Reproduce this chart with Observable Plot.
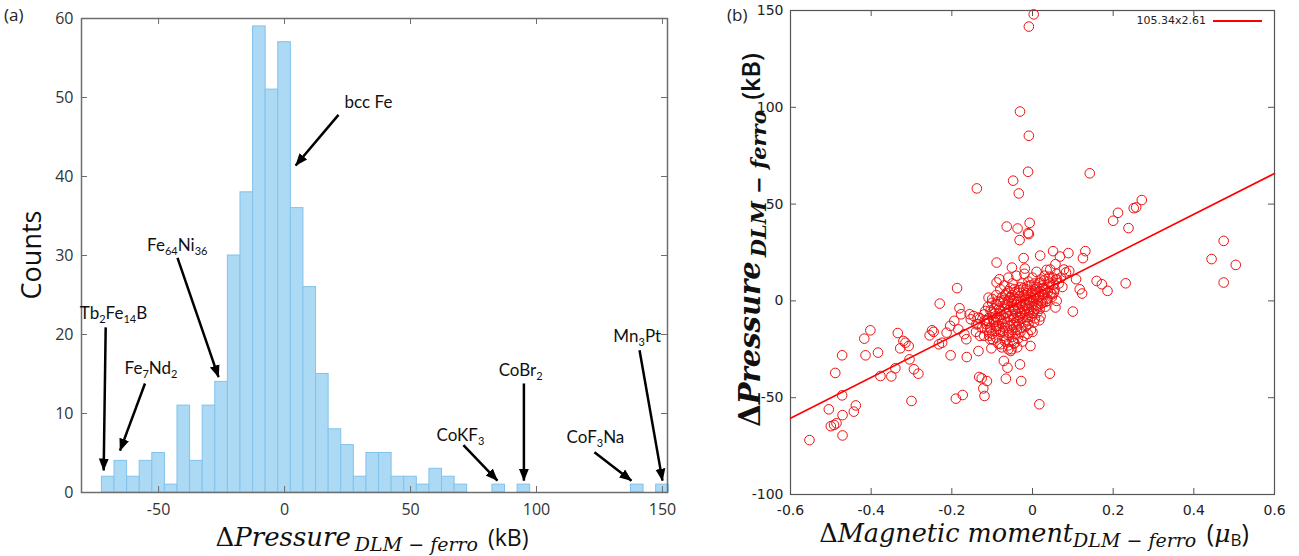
<!DOCTYPE html>
<html><head><meta charset="utf-8">
<script src="https://cdn.jsdelivr.net/npm/d3@7"></script>
<script src="https://cdn.jsdelivr.net/npm/@observablehq/plot@0.6"></script>
<style>
body{margin:0;background:#fff;}
#wrap{position:relative;width:1299px;height:556px;overflow:hidden;background:#fff;}
.abs{position:absolute;white-space:nowrap;line-height:1;}
.panel{font-family:'Open Sans',sans-serif;font-size:17px;color:#222;}
.mi{font-family:'DejaVu Serif',serif;font-style:italic;color:#111;}
.up{font-style:normal;}
.sb{font-family:'DejaVu Serif',serif;font-style:italic;position:relative;color:#111;}
.sans{font-family:'Open Sans',sans-serif;color:#111;}
</style></head><body><div id="wrap">
<div id="a" class="abs" style="left:0;top:0"></div>
<div id="b" class="abs" style="left:700px;top:0"></div>
<div class="abs panel" style="left:4px;top:6px">(a)</div>
<div class="abs panel" style="left:727px;top:6px">(b)</div>
<div class="abs sans" style="left:30px;top:255px;transform:translate(-50%,-50%) rotate(-90deg);font-size:27px;">Counts</div>
<div class="abs" style="left:372px;top:537px;transform:translate(-50%,-50%);">
  <span class="mi" style="font-size:26px"><span class="up">Δ</span>Pressure</span>
  <span class="sb" style="font-size:19px;top:5px">DLM − ferro</span>
  <span class="sans" style="font-size:23px">&nbsp;(kB)</span>
</div>
<div class="abs" style="left:1034px;top:533px;transform:translate(-50%,-50%);">
  <span class="mi" style="font-size:25.5px"><span class="up">Δ</span>Magnetic moment</span><span class="sb" style="font-size:19px;top:5px">DLM − ferro</span>
  <span class="sans" style="font-size:25px">&nbsp;(<span class="mi">μ</span><span style="font-size:17px;position:relative;top:4px">B</span>)</span>
</div>
<div class="abs" style="left:750px;top:240px;transform:translate(-50%,-50%) rotate(-90deg);">
  <span class="mi" style="font-size:29px;font-weight:bold"><span class="up">Δ</span>Pressure</span>
  <span class="sb" style="font-size:21px;top:6px;font-weight:bold">DLM − ferro</span>
  <span class="sans" style="font-size:25px;font-weight:600">&nbsp;(kB)</span>
</div>
<div class="abs" style="right:93px;top:15px;font-family:'DejaVu Sans',sans-serif;font-size:11px;color:#222;">105.34x2.61</div>
<div class="abs" style="left:1213px;top:20px;width:49px;height:2px;background:#f00;"></div>
</div>
<script>
// ---------- Panel (a) data: histogram ----------
const binCenters = [-70,-65,-60,-55,-50,-45,-40,-35,-30,-25,-20,-15,-10,-5,0,5,10,15,20,25,30,35,40,45,50,55,60,65,70,85,95,140,150];
const binCounts  = [2,4,2,4,5,1,11,4,11,14,30,38,59,51,57,36,26,15,8,6,2,5,5,2,2,1,3,2,1,1,1,1,1];
const binWidth = 5;
const xTicksA = [-50,0,50,100,150];
const yTicksA = [0,10,20,30,40,50,60];

// annotations (data coordinates)
const annotLabels = ["bcc Fe","Fe₆₄Ni₃₆","Tb₂Fe₁₄B","Fe₇Nd₂","CoKF₃","CoBr₂","CoF₃Na","Mn₃Pt"];
const annotTextX  = [33.3,-42.6,-67.9,-53.0,69.8,93.7,123.4,140];
const annotTextY  = [49.3,31.3,22.7,15.7,7.2,15.5,7.0,19.8];
const arrowX1 = [21.4,-42.5,-71.0,-55.4,71.0,95.0,123.0,140.9];
const arrowY1 = [47.8,29.7,20.9,13.8,6.0,13.8,5.1,18.0];
const arrowX2 = [4.4,-26.2,-71.8,-65.3,84.5,95.0,137.7,150.0];
const arrowY2 = [41.4,14.6,2.8,5.3,1.5,1.5,1.5,1.5];

// ---------- Panel (b) data: scatter ----------
const xTicksB = [-0.6,-0.4,-0.2,0,0.2,0.4,0.6];
const yTicksB = [-100,-50,0,50,100,150];
const fitSlope = 105.34, fitIntercept = 2.61;
const fitRange = [-0.6, 0.6];

const upperPoints = [
[0.003,148],[-0.009,141.7],[-0.031,97.8],[-0.009,85.3],[-0.011,66.7],[0.142,65.9],[-0.048,62.1],[-0.034,55.5],[-0.138,58.1],
[0.271,52.1],[0.257,48.3],[0.251,47.9],[0.212,45.5],[0.2,41.4],[0.238,37.6],[-0.007,40.3],[-0.011,35],[-0.009,34.5],
[-0.064,38.4],[-0.037,37.4],[-0.032,31.4],[0.474,31],[0.444,21.6],[0.504,18.6],[0.474,9.5],[-0.089,19.8],[-0.051,17.2],
[-0.022,22.1],[0.019,23.4],[0.051,25.7],[0.068,22.9],[0.089,24.7],[0.131,25.7],[0.125,22.1],[-0.019,16.7],[0.057,19],
[0.078,16.2],[0.091,15.5],[0.044,16.2]];
const lowerPoints = [
[-0.553,-71.9],[-0.505,-56],[-0.5,-64.7],[-0.492,-64.1],[-0.486,-63.2],[-0.471,-69.5],[-0.471,-59],[-0.472,-48.8],
[-0.443,-57.2],[-0.438,-54],[-0.489,-37.2],[-0.472,-28.1],[-0.417,-19.5],[-0.402,-15.2],[-0.414,-28.1],[-0.383,-26.7],
[-0.377,-38.8],[-0.35,-39],[-0.34,-34.8],[-0.334,-16.6],[-0.328,-24.5],[-0.32,-20.7],[-0.315,-21.6],[-0.307,-23.3],
[-0.305,-30.2],[-0.294,-35.3],[-0.283,-37.6],[-0.3,-51.7],[-0.255,-17.8],[-0.249,-15.2],[-0.245,-16],[-0.232,-22.4],
[-0.224,-21.6],[-0.23,-1.4],[-0.213,-16.4],[-0.204,-12.9],[-0.194,-10.3],[-0.203,-28.1],[-0.19,-50.5],[-0.173,-48.6],
[-0.187,6.6],[-0.181,-3.8],[-0.177,-6.9],[-0.184,-14.7],[-0.169,-17.2],[-0.164,-19.8],[-0.163,-29],[-0.156,-6.9],
[-0.153,-9.5],[-0.146,-7.8],[-0.139,-12.1],[-0.136,-8.6],[-0.134,-25.9],[-0.13,-18.1],[-0.132,-39.3],[-0.126,-40],
[-0.122,-45.2],[-0.119,-49.1],[-0.113,-41.4],[-0.117,-5.2],[-0.113,-10.3],[-0.107,-16.4],[-0.105,-19.8],[-0.102,-24.5],
[-0.109,1.7],[-0.089,9.5],[-0.082,11.2],[-0.09,-1.7],[-0.088,-8.6],[-0.083,-12.9],[-0.079,-22.4],[-0.071,-31],
[-0.066,-40.2],[-0.062,-34.5],[-0.06,-25],[-0.054,-25.9],[-0.049,-20.7],[-0.045,-21.6],[-0.031,-32.8],[-0.028,-41.4],
[-0.005,-23.3],[0,-16],[0.017,-10],[0.017,-53.4],[0.043,-37.6],[0.057,-3.4],[0.1,-5.5],[0.108,11.2],[0.117,6],
[0.123,3.8],[0.159,10.3],[0.172,8.6],[0.186,5.2],[0.231,9.1],[0.074,7.2],[0.053,4.3],[0.049,3.4],[0.036,0],
[0.083,14.7],[0.061,11.2]];
const clusterPoints = [
[-0.06,12],[-0.04,13],[-0.02,14],[0.0,12],[0.01,15],[0.02,11],[0.03,13],[0.04,10],[0.035,16],[0.05,12],[0.06,14],[-0.01,10],[0.015,9],[0.065,9],[0.07,12],
[-0.08,6],[-0.07,8],[-0.06,5],[-0.05,9],[-0.045,6],[-0.03,7],[-0.025,9],[-0.015,6],[-0.005,8],[0.0,5],[0.005,9],[0.012,7],[0.02,5],[0.025,8],[0.03,6],[0.04,7],[0.045,4],[0.055,6],[0.008,3.5],[-0.035,4],
[-0.1,1],[-0.09,3],[-0.085,0],[-0.075,2],[-0.065,4],[-0.06,0],[-0.055,2],[-0.05,3],[-0.042,1],[-0.038,-0.5],[-0.032,2.5],[-0.028,0],[-0.022,3],[-0.018,1],[-0.012,4],[-0.008,0.5],[-0.004,2],[0.002,0],[0.006,3],[0.01,1],[0.016,2],[0.022,0],[0.028,3],[0.035,1],[0.048,2],[0.06,0],
[-0.11,-3],[-0.1,-1],[-0.095,-4],[-0.088,-2],[-0.08,-5],[-0.072,-1],[-0.068,-3.5],[-0.062,-2],[-0.058,-4.5],[-0.052,-1],[-0.048,-3],[-0.044,-5],[-0.04,-2],[-0.035,-4],[-0.03,-1.5],[-0.026,-3],[-0.02,-4.5],[-0.016,-2],[-0.01,-3.5],[-0.006,-1],[0.0,-3],[0.004,-5],[0.01,-2],[0.018,-4],[0.025,-1],[0.032,-3],
[-0.12,-7],[-0.11,-9],[-0.1,-6],[-0.092,-8],[-0.085,-10],[-0.078,-7],[-0.07,-9],[-0.066,-6],[-0.06,-8],[-0.054,-10],[-0.05,-7],[-0.046,-9],[-0.04,-6],[-0.036,-8.5],[-0.03,-6.5],[-0.024,-9],[-0.018,-7],[-0.012,-10],[-0.008,-6],[-0.002,-8],[0.006,-9],[0.012,-6],[0.02,-8],
[-0.115,-12],[-0.105,-14],[-0.095,-11],[-0.09,-13],[-0.082,-15],[-0.075,-12],[-0.068,-14],[-0.062,-11],[-0.056,-13],[-0.05,-15],[-0.045,-11.5],[-0.04,-13.5],[-0.034,-12],[-0.028,-14],[-0.022,-11],[-0.016,-13],[-0.01,-12],[-0.004,-15],[0.004,-11],
[-0.1,-17],[-0.09,-19],[-0.08,-16],[-0.072,-18],[-0.065,-20],[-0.058,-16.5],[-0.05,-18.5],[-0.042,-17],[-0.036,-19.5],[-0.03,-16],[-0.02,-18],[-0.012,-17],
[-0.085,-22],[-0.076,-24],[-0.068,-21],[-0.06,-23],[-0.052,-25],[-0.045,-22],[-0.038,-24],[-0.025,-21],
[-0.07,0.5],[-0.064,-6.5],[-0.057,1.5],[-0.047,-4],[-0.043,4.5],[-0.037,-10.5],[-0.033,5.5],[-0.027,-6],[-0.023,6.5],[-0.019,-2.5],[-0.013,7.5],[-0.009,-4.5],[-0.003,4],[0.001,-6.5],[0.007,6],[0.013,-2.5],[0.019,9.5],[0.024,3.5],[0.029,10.5],[0.038,4.5],[0.042,12.5],[0.052,8.5],
[-0.079,-9.5],[-0.083,-4],[-0.087,-13],[-0.093,-6.5],[-0.097,-10],[-0.104,-5],[-0.108,-11],[-0.118,-10],[-0.125,-14],[-0.13,-9],[-0.014,0.5],[-0.046,0],[-0.073,-15.5],[-0.061,-17.5],[-0.049,-12.5],[-0.039,-15],[-0.031,-8],[-0.021,-5.5],[-0.017,3],[-0.011,-8.5],[0.003,1.5],[0.009,-4],[0.015,4.5],[0.021,-1.5],[0.027,6.5],[0.033,-0.5],[0.044,9],[0.058,11],
[-0.055,6.5],[-0.067,3],[-0.081,-0.5],[-0.091,-15.5],[-0.098,-20],[-0.107,-18],[-0.112,-15],[-0.12,-18],[-0.135,-12],[-0.14,-16]];

// ---------- build ----------
const SVGNS = "http://www.w3.org/2000/svg";
function headMarker(color) {
  const m = document.createElementNS(SVGNS, "marker");
  m.setAttribute("viewBox", "0 -5 10 10");
  m.setAttribute("refX", "9.5");
  m.setAttribute("refY", "0");
  m.setAttribute("markerWidth", "5");
  m.setAttribute("markerHeight", "5");
  m.setAttribute("orient", "auto");
  const p = document.createElementNS(SVGNS, "path");
  p.setAttribute("d", "M0,-4L10,0L0,4Z");
  p.setAttribute("fill", color);
  p.setAttribute("stroke", "none");
  m.appendChild(p);
  return m;
}
function subify(svg) {
  svg.querySelectorAll("text").forEach(t => {
    const s = t.textContent;
    if (!/[₀-₉]/.test(s)) return;
    t.textContent = "";
    const parts = s.match(/[₀-₉]+|[^₀-₉]+/g);
    let low = false;
    for (const part of parts) {
      const ts = document.createElementNS(SVGNS, "tspan");
      const isSub = /[₀-₉]/.test(part);
      ts.textContent = isSub ? part.replace(/[₀-₉]/g, c => String.fromCharCode(c.charCodeAt(0) - 0x2080 + 48)) : part;
      if (isSub) { ts.setAttribute("font-size", "11"); ts.setAttribute("dy", "4"); low = true; }
      else if (low) { ts.setAttribute("dy", "-4"); low = false; }
      t.appendChild(ts);
    }
  });
}

const bins = binCenters.map((c, i) => ({x1: c - binWidth / 2, x2: c + binWidth / 2, count: binCounts[i]}));
const annots = annotLabels.map((label, i) => ({label, tx: annotTextX[i], ty: annotTextY[i], ax1: arrowX1[i], ay1: arrowY1[i], ax2: arrowX2[i], ay2: arrowY2[i]}));

const A = {w: 700, h: 556, ml: 81, mr: 33, mt: 18, mb: 64};
const aiw = A.w - A.ml - A.mr, aih = A.h - A.mt - A.mb;
const frameA = "#6d6d6d";
const plotA = Plot.plot({
  width: A.w, height: A.h, marginLeft: A.ml, marginRight: A.mr, marginTop: A.mt, marginBottom: A.mb,
  style: {fontFamily: "'Open Sans', sans-serif", fontSize: "16px", color: "#333", background: "white"},
  x: {domain: [-80.6, 152]},
  y: {domain: [0, 60]},
  marks: [
    Plot.rect(bins, {x1: "x1", x2: "x2", y1: 0, y2: "count", fill: "#acd9f4", stroke: "#82c3ec", strokeWidth: 1}),
    Plot.frame({stroke: frameA, strokeWidth: 1.5}),
    Plot.tickX(xTicksA, {x: d => d, insetTop: aih - 6, stroke: frameA}),
    Plot.tickX(xTicksA, {x: d => d, insetBottom: aih - 6, stroke: frameA}),
    Plot.tickY(yTicksA, {y: d => d, insetRight: aiw - 6, stroke: frameA}),
    Plot.tickY(yTicksA, {y: d => d, insetLeft: aiw - 6, stroke: frameA}),
    Plot.axisX({ticks: xTicksA, tickSize: 0, tickPadding: 11, label: null, tickFormat: d => String(d)}),
    Plot.axisY({ticks: yTicksA, tickSize: 0, tickPadding: 8, label: null, tickFormat: d => String(d)}),
    Plot.link(annots, {x1: "ax1", y1: "ay1", x2: "ax2", y2: "ay2", stroke: "black", strokeWidth: 2.5, markerEnd: headMarker}),
    Plot.text(annots, {x: "tx", y: "ty", text: "label", fontSize: 17, fontFamily: "Lato, 'Open Sans', sans-serif", fill: "#111"})
  ]
});
subify(plotA);
document.getElementById("a").appendChild(plotA);

const points = [...upperPoints, ...lowerPoints, ...clusterPoints].map(([x, y]) => ({x, y}));
const fit = fitRange.map(x => ({x, y: fitSlope * x + fitIntercept}));
const B = {w: 599, h: 556, ml: 90, mr: 25, mt: 10, mb: 62};
const biw = B.w - B.ml - B.mr, bih = B.h - B.mt - B.mb;
const frameB = "#555";
const plotB = Plot.plot({
  width: B.w, height: B.h, marginLeft: B.ml, marginRight: B.mr, marginTop: B.mt, marginBottom: B.mb,
  style: {fontFamily: "'DejaVu Sans', sans-serif", fontSize: "14px", color: "#222", background: "white"},
  x: {domain: [-0.6, 0.6]},
  y: {domain: [-100, 150]},
  marks: [
    Plot.frame({stroke: frameB, strokeWidth: 1.2}),
    Plot.tickX(xTicksB, {x: d => d, insetTop: bih - 6, stroke: frameB}),
    Plot.tickX(xTicksB, {x: d => d, insetBottom: bih - 6, stroke: frameB}),
    Plot.tickY(yTicksB, {y: d => d, insetRight: biw - 6, stroke: frameB}),
    Plot.tickY(yTicksB, {y: d => d, insetLeft: biw - 6, stroke: frameB}),
    Plot.axisX({ticks: xTicksB, tickSize: 0, tickPadding: 11, label: null, tickFormat: d => String(d)}),
    Plot.axisY({ticks: yTicksB, tickSize: 0, tickPadding: 7, label: null, tickFormat: d => String(d)}),
    Plot.dot(points, {x: "x", y: "y", r: 4.8, stroke: "#f01010", strokeWidth: 1}),
    Plot.line(fit, {x: "x", y: "y", stroke: "#f00", strokeWidth: 1.6})
  ]
});
document.getElementById("b").appendChild(plotB);
</script>
</body></html>
